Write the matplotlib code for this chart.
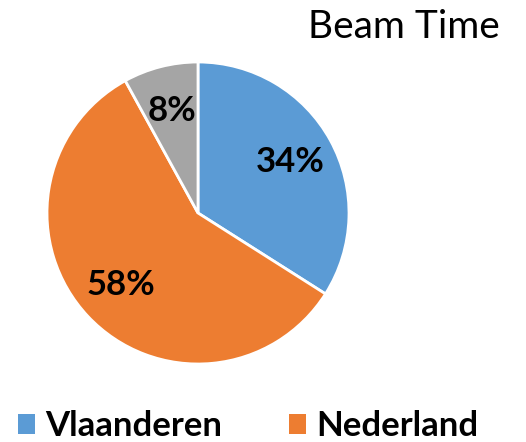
import matplotlib
matplotlib.use('Agg')
import matplotlib.pyplot as plt
from matplotlib.patches import Patch

labels = ['Vlaanderen', 'Nederland', 'Overig']
shares = [34, 58, 8]
colors = ['#5B9BD5', '#ED7D31', '#A5A5A5']
title = 'Beam Time'

plt.rcParams['font.family'] = ['Lato', 'DejaVu Sans']

fig = plt.figure(figsize=(5.26, 4.42), dpi=100)
# pie centred at about (198, 213) px, radius ~151 px
ax = fig.add_axes([47 / 526, 78 / 442, 302 / 526, 302 / 442])
wedges, texts, autotexts = ax.pie(
    shares, colors=colors, startangle=90, counterclock=False,
    autopct='%d%%', pctdistance=0.7, radius=1,
    wedgeprops=dict(edgecolor='white', linewidth=2),
    textprops=dict(fontsize=25, fontweight='bold', color='black'))
ax.set_xlim(-1, 1)
ax.set_ylim(-1, 1)
ax.set_aspect('equal')

fig.text(500 / 526, 1 - 27 / 442, title, ha='right', va='center', fontsize=28)

# only the first two entries fit on the canvas
handles = [Patch(facecolor=c) for c in colors[:2]]
fig.legend(handles, labels[:2], loc='center left',
           bbox_to_anchor=(4 / 526, 1 - 426 / 442), ncol=2, frameon=False,
           prop=dict(size=25, weight='bold'), handlelength=0.5, handleheight=0.5,
           handletextpad=0.3, columnspacing=1.9, borderaxespad=0)

fig.savefig('out.png', dpi=100)
